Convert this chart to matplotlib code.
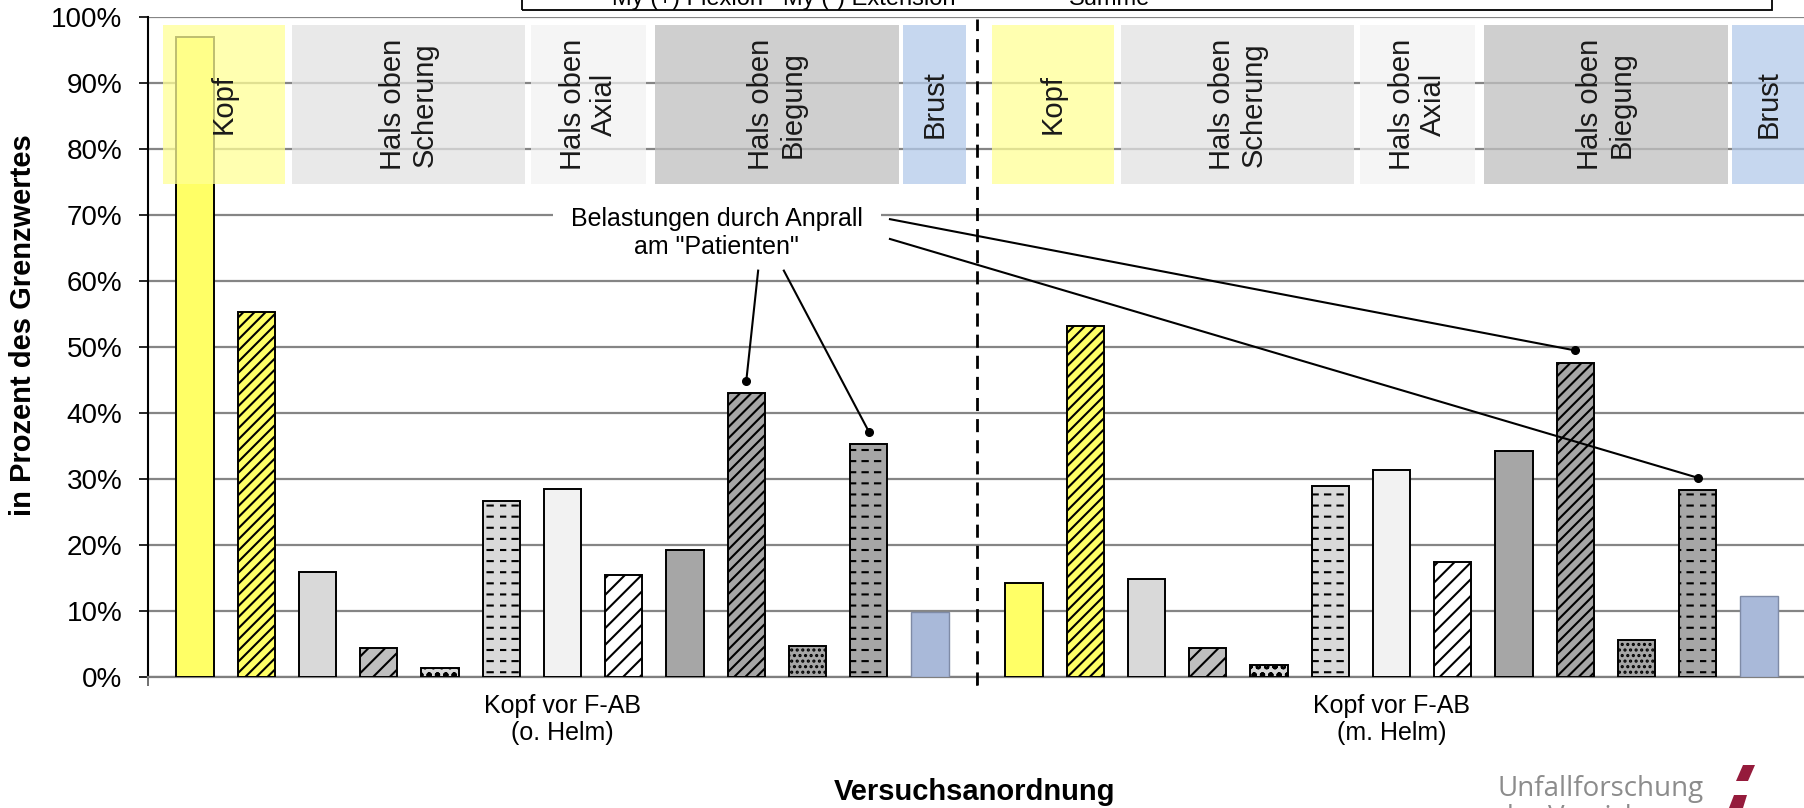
import numpy as np
import matplotlib
matplotlib.use('Agg')
import matplotlib.pyplot as plt
import matplotlib.hatch as mhatch
from matplotlib.path import Path
from matplotlib.patches import Rectangle, Polygon
from matplotlib.ticker import FuncFormatter, FixedLocator
from matplotlib.transforms import blended_transform_factory


# ── Daten ──

gruppen = ['Kopf vor F-AB\n(o. Helm)', 'Kopf vor F-AB\n(m. Helm)']

# 13 Messgrößen je Versuch, Werte in Prozent des Grenzwertes
werte_ohne_helm = [97.0, 55.4, 15.9, 4.4, 1.3, 26.7, 28.5, 15.5, 19.2, 43.0, 4.7, 35.3, 9.9]
werte_mit_helm = [14.3, 53.2, 14.8, 4.4, 1.8, 28.9, 31.4, 17.4, 34.2, 47.6, 5.6, 28.3, 12.3]

farben = ['#FFFF66', '#FFFF66', '#D9D9D9', '#BFBFBF', '#D9D9D9', '#D9D9D9', '#F2F2F2',
          '#FFFFFF', '#A6A6A6', '#A6A6A6', '#A6A6A6', '#A6A6A6', '#A9B9D9']
muster = [None, '///', None, '//', 'oo', '--', None, '//', None, '///', '...', '--', None]

bereiche = ['Kopf', 'Hals oben\nScherung', 'Hals oben\nAxial', 'Hals oben\nBiegung', 'Brust']

legende_oben = ['My (+) Flexion', 'My (-) Extension', 'Summe']

# Belastungen durch Anprall am "Patienten": (Gruppe, Messgröße)
anprall = [(0, 9), (0, 11), (1, 9), (1, 11)]


# ── gestrichelte Schraffur statt durchgehender Linien für '-' ──

class DashedHorizontalHatch(mhatch.HatchPatternBase):
    def __init__(self, hatch, density):
        self.num_lines = int(hatch.count('-') * density * 0.75)
        self.num_dashes = 8
        self.num_vertices = self.num_lines * self.num_dashes * 2

    def set_vertices_and_codes(self, vertices, codes):
        rows, rstep = np.linspace(0.0, 1.0, self.num_lines, False, retstep=True)
        rows += rstep / 2.
        starts, dstep = np.linspace(0.0, 1.0, self.num_dashes, False, retstep=True)
        xs = np.tile(starts, self.num_lines)
        ys = np.repeat(rows, self.num_dashes)
        vertices[0::2, 0] = xs
        vertices[0::2, 1] = ys
        vertices[1::2, 0] = xs + dstep * 0.42
        vertices[1::2, 1] = ys
        codes[0::2] = Path.MOVETO
        codes[1::2] = Path.LINETO


mhatch._hatch_types[0] = DashedHorizontalHatch

plt.rcParams['font.family'] = ['Liberation Sans', 'DejaVu Sans']
plt.rcParams['hatch.linewidth'] = 1.5

W, H = 1804, 808
fig = plt.figure(figsize=(W / 100, H / 100), dpi=100)
ax = fig.add_axes([148 / W, (H - 677) / H, (1806 - 148) / W, (677 - 17.3) / H])

n = len(werte_ohne_helm)
abstand = 0.0739
breite = 0.045
offsets = 0.5 + (np.arange(n) - (n - 1) / 2) * abstand

for g, werte in enumerate([werte_ohne_helm, werte_mit_helm]):
    for i, v in enumerate(werte):
        ec = '#7F8BA6' if i == n - 1 else 'black'
        lw = 1.0 if i == n - 1 else 1.4
        ax.bar(g + offsets[i], v, width=breite, color=farben[i], hatch=muster[i],
               edgecolor=ec, linewidth=lw, zorder=3)

# Bereichs-Kästen oben (halbtransparent über Gitter und Balken)
kasten = [(0.018, 0.165, '#FFFF96'), (0.174, 0.455, '#E2E2E2'), (0.462, 0.601, '#F2F2F2'),
          (0.611, 0.906, '#C0C0C0'), (0.911, 0.987, '#B3CAEA')]
for g in range(len(gruppen)):
    for name, (x0, x1, c) in zip(bereiche, kasten):
        if g == len(gruppen) - 1 and name == 'Brust':
            x1 = 1.0
        ax.add_patch(Rectangle((g + x0, 74.7), x1 - x0, 98.9 - 74.7, facecolor=c,
                               edgecolor='none', alpha=0.75, zorder=4))
        ax.text(g + (x0 + x1) / 2, 86.8, name, rotation=90, ha='center', va='center',
                fontsize=21, color='#1a1a1a', linespacing=1.15, zorder=5)

# Trennlinie zwischen den Versuchen
trans = blended_transform_factory(ax.transData, ax.transAxes)
ax.plot([1, 1], [-0.012, 0.997], transform=trans, color='black', lw=2,
        linestyle=(0, (4.7, 2.9)), clip_on=False, zorder=6)

# Annotation
ax.text(0.686, 67.3, 'Belastungen durch Anprall\nam "Patienten"', ha='center', va='center',
        fontsize=18, linespacing=1.2, zorder=7,
        bbox=dict(facecolor='white', edgecolor='none', pad=13))
starts = [(0.736, 61.6), (0.767, 61.6), (0.895, 69.4), (0.895, 66.4)]
for (g, i), (sx, sy) in zip(anprall, starts):
    werte = [werte_ohne_helm, werte_mit_helm][g]
    px, py = g + offsets[i], werte[i] + 1.9
    ax.plot([sx, px], [sy, py], color='black', lw=1.5, zorder=7)
    ax.plot(px, py, 'o', color='black', ms=5.5, zorder=7)

# Achsen
ax.set_xlim(0, 2)
ax.set_ylim(0, 100)
ax.set_yticks(np.arange(0, 101, 10))
ax.yaxis.set_major_formatter(FuncFormatter(lambda v, _: f'{v:.0f}%'))
ax.tick_params(axis='y', labelsize=20, length=6.5, width=1.2, pad=12, direction='out')
ax.grid(axis='y', color='#858585', lw=1.6, zorder=1)
ax.set_axisbelow(True)

ax.set_xticks([0, 1, 2])
ax.set_xticklabels([])
ax.tick_params(axis='x', which='major', length=6.5, width=1.2, color='#595959')
ax.xaxis.set_minor_locator(FixedLocator([0.5, 1.5]))
ax.set_xticklabels(gruppen, minor=True)
ax.tick_params(axis='x', which='minor', length=0, labelsize=18, pad=12)

for s in ['top', 'right']:
    ax.spines[s].set_visible(False)
ax.spines['left'].set_linewidth(1.5)
ax.spines['bottom'].set_color('#7F7F7F')
ax.spines['bottom'].set_linewidth(1.6)

fig.text(23 / W, 1 - 325 / H, 'in Prozent des Grenzwertes', rotation=90, ha='center',
         va='center', fontsize=21, fontweight='bold')
fig.text(975 / W, 1 - 792 / H, 'Versuchsanordnung', ha='center', va='center',
         fontsize=21, fontweight='bold')

# abgeschnittene Legende oben
fig.patches.append(Rectangle((522 / W, 1 - 10 / H), (1772 - 522) / W, 0.2,
                             transform=fig.transFigure, facecolor='none',
                             edgecolor='black', lw=1.3))
for txt, xc in zip(legende_oben, [687, 869, 1110]):
    fig.text(xc / W, 1 - 5 / H, txt, ha='center', va='baseline', fontsize=17)

# Logo
fig.text(1497 / W, 1 - 796 / H, 'Unfallforschung', ha='left', va='baseline',
         fontsize=20, color='#8C8C8C', family=['Open Sans', 'DejaVu Sans'])
fig.text(1497 / W, 1 - 804 / H, 'der Versicherer', ha='left', va='top',
         fontsize=20, color='#8C8C8C', family=['Open Sans', 'DejaVu Sans'])
for pts in [[(1743, 765), (1755, 765), (1748, 781), (1736, 781)],
            [(1734, 795), (1747, 795), (1743, 808), (1729, 808)]]:
    fig.patches.append(Polygon([(x / W, 1 - y / H) for x, y in pts], closed=True,
                               transform=fig.transFigure, facecolor='#951B3C',
                               edgecolor='none'))

plt.savefig('out.png', dpi=100)
plt.close()
